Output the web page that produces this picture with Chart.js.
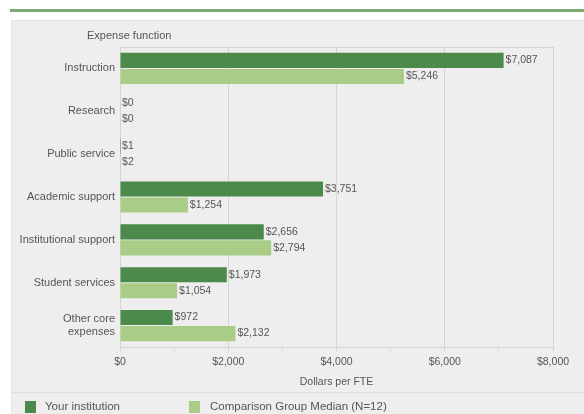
<!DOCTYPE html>
<html>
<head>
<meta charset="utf-8">
<script src="https://cdn.jsdelivr.net/npm/chart.js@4"></script>
<style>
  body { margin: 0; background: #fff; font-family: "Liberation Sans", Arial, sans-serif; }
  #wrap { position: relative; width: 584px; height: 414px; overflow: hidden; }
  #topline { position: absolute; left: 10px; top: 9px; width: 574px; height: 3px; background: #7aab6f; }
  #panel { position: absolute; left: 11px; top: 20px; width: 573px; height: 394px; background: #eeeeee; border-top: 1px solid #e3e3e3; border-left: 1px solid #e3e3e3; box-sizing: border-box; }
  #sep { position: absolute; left: 11px; top: 392px; width: 573px; height: 1px; background: #dedede; }
  #ylab { position: absolute; left: 87px; top: 29px; font-size: 11px; color: #555; }
  canvas { position: absolute; left: 0; top: 0; }
  .leg { position: absolute; top: 400px; font-size: 11.5px; color: #555; }
  .sw { position: absolute; top: 401px; width: 11px; height: 12px; }
</style>
</head>
<body>
<div id="wrap">
  <div id="topline"></div>
  <div id="panel"></div>
  <div id="sep"></div>
  <canvas id="c" width="584" height="414"></canvas>
  <div id="ylab">Expense function</div>
  <div class="sw" style="left:25px;background:#4c8a4c"></div>
  <div class="leg" style="left:45px">Your institution</div>
  <div class="sw" style="left:189px;background:#a9cc87"></div>
  <div class="leg" style="left:210px">Comparison Group Median (N=12)</div>
</div>
<script>
// expense categories
const categories = ['Instruction', 'Research', 'Public service', 'Academic support',
  'Institutional support', 'Student services', ['Other core', 'expenses']]
// dollars per FTE
const yourInstitution = [7087, 0, 1, 3751, 2656, 1973, 972]
const comparisonMedian = [5246, 0, 2, 1254, 2794, 1054, 2132]
const xTicks = [0, 2000, 4000, 6000, 8000]

const dark = '#4c8a4c'
const light = '#a9cc87'
const textColor = '#555'
const gridColor = '#d4d4d4'

const fmt = v => '$' + v.toLocaleString('en-US')

// box round the plot area
const boxPlugin = {
  id: 'box',
  beforeDatasetsDraw(chart) {
    const a = chart.chartArea, ctx = chart.ctx
    ctx.save()
    ctx.strokeStyle = gridColor
    ctx.lineWidth = 1
    ctx.strokeRect(a.left + 0.5, a.top + 0.5, a.right - a.left, a.bottom - a.top)
    ctx.restore()
  }
}

// value labels at the end of each bar
const valuePlugin = {
  id: 'values',
  afterDatasetsDraw(chart) {
    const ctx = chart.ctx
    ctx.save()
    ctx.font = '10.5px "Liberation Sans", Arial, sans-serif'
    ctx.fillStyle = textColor
    ctx.textBaseline = 'middle'
    chart.data.datasets.forEach((ds, i) => {
      chart.getDatasetMeta(i).data.forEach((bar, j) => {
        ctx.fillText(fmt(ds.data[j]), bar.x + 2, bar.y)
      })
    })
    ctx.restore()
  }
}

Chart.defaults.font.family = '"Liberation Sans", Arial, sans-serif'
Chart.defaults.font.size = 10.5
Chart.defaults.color = textColor

new Chart(document.getElementById('c'), {
  type: 'bar',
  data: {
    labels: categories,
    datasets: [
      { label: 'Your institution', data: yourInstitution, backgroundColor: dark },
      { label: 'Comparison Group Median (N=12)', data: comparisonMedian, backgroundColor: light }
    ]
  },
  options: {
    indexAxis: 'y',
    responsive: false,
    animation: false,
    devicePixelRatio: 1,
    categoryPercentage: 0.75,
    barPercentage: 0.94,
    layout: { padding: { left: 0, right: 31, top: 47, bottom: 22 } },
    plugins: { legend: { display: false }, tooltip: { enabled: false } },
    scales: {
      x: {
        min: 0, max: 8000,
        afterBuildTicks: s => {
          const t = []
          for (let v = 0; v <= 8000; v += 1000) t.push({ value: v })
          s.ticks = t
        },
        afterFit: s => { s.height = 45 },
        ticks: {
          padding: 5,
          autoSkip: false,
          maxRotation: 0,
          callback: v => xTicks.includes(v) ? fmt(v) : ''
        },
        grid: {
          color: c => (c.tick && c.tick.value % 2000 === 0) ? gridColor : 'rgba(0,0,0,0)',
          tickColor: gridColor,
          tickLength: 4
        },
        border: { color: gridColor },
        title: { display: true, text: 'Dollars per FTE', padding: { top: 0, bottom: 4 } }
      },
      y: {
        afterFit: s => { s.width = 120 },
        ticks: { padding: 5, autoSkip: false, font: { size: 11 } },
        grid: { display: false, drawTicks: false },
        border: { color: gridColor }
      }
    }
  },
  plugins: [boxPlugin, valuePlugin]
})
</script>
</body>
</html>
